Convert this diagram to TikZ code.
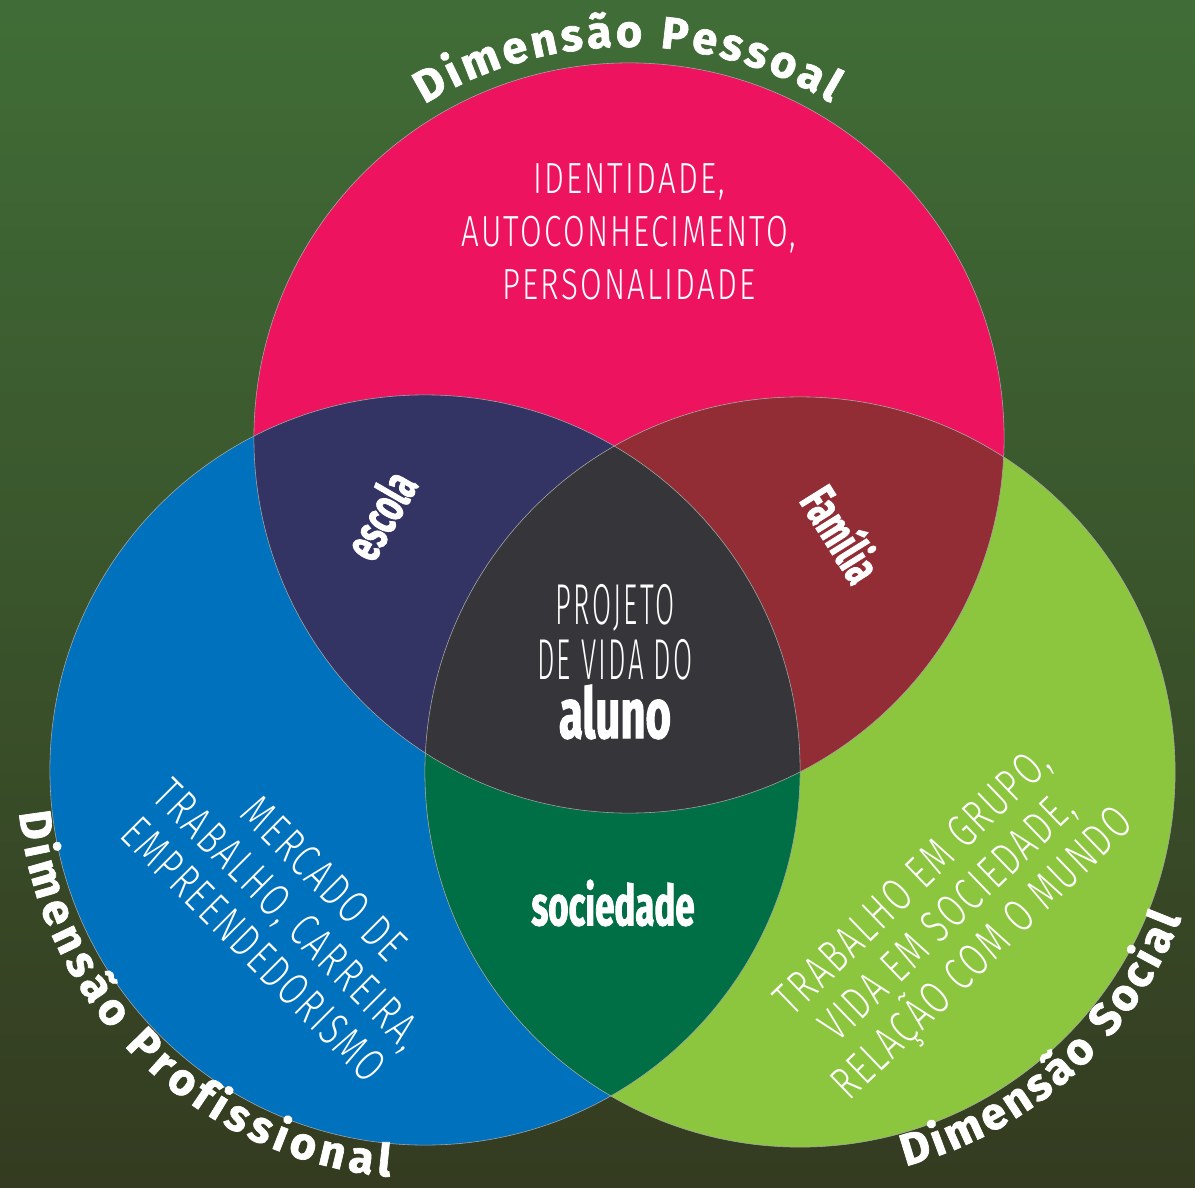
\documentclass[tikz,border=0pt]{standalone}
\usepackage{fontspec}
\newfontfamily\thinfont{Fira Sans Light}[FakeStretch=0.72,LetterSpace=5]
\newfontfamily\thinnarrow{Fira Sans Light}[FakeStretch=0.48,LetterSpace=4]
\newfontfamily\heavyfont{Fira Sans Bold}[FakeStretch=0.62,FakeBold=1.5]
\newfontfamily\arcfont{Fira Sans Bold}[FakeBold=1.5]
\usetikzlibrary{decorations.text}

\definecolor{bgtop}{HTML}{406D37}
\definecolor{bgbot}{HTML}{343B20}
\definecolor{pessoal}{HTML}{EE135E}
\definecolor{profis}{HTML}{0071BC}
\definecolor{social}{HTML}{8CC63F}
\definecolor{escolacol}{HTML}{343464}
\definecolor{familiacol}{HTML}{932D35}
\definecolor{sociedcol}{HTML}{006F46}
\definecolor{centrocol}{HTML}{363539}

\tikzset{
  every node/.style={text=white, inner sep=0pt},
  toptext/.style={font=\thinfont\fontsize{31}{37.7}\selectfont, align=center},
  sidetext/.style={font=\thinfont\fontsize{33}{35.6}\selectfont, align=center},
  centertext/.style={font=\thinnarrow\fontsize{41}{39}\selectfont, align=center},
  heavylabel/.style={font=\heavyfont\fontsize{36}{36}\selectfont},
  edge/.style={draw=gray!70, line width=0.4pt},
  arctext/.style={decorate, decoration={text along path, text color=white,
      text={|\arcfont\fontsize{32}{32}\selectfont|#1}, text align={fit to path}}}
}

\begin{document}
\begin{tikzpicture}[x=0.025cm,y=0.025cm]
  \useasboundingbox (0,0) rectangle (1195,-1188);
  \shade[top color=bgtop, bottom color=bgbot] (0,0) rectangle (1195,-1188);

  % circle centres
  \coordinate (P) at (629,-438);
  \coordinate (B) at (425,-770);
  \coordinate (S) at (800,-772);
  \def\rad{9.375cm}

  \fill[pessoal] (P) circle[radius=\rad];
  \fill[profis] (B) circle[radius=\rad];
  \fill[social] (S) circle[radius=\rad];
  \begin{scope}
    \clip (P) circle[radius=\rad];
    \fill[escolacol] (B) circle[radius=\rad];
    \fill[familiacol] (S) circle[radius=\rad];
  \end{scope}
  \begin{scope}
    \clip (B) circle[radius=\rad];
    \fill[sociedcol] (S) circle[radius=\rad];
    \clip (P) circle[radius=\rad];
    \fill[centrocol] (S) circle[radius=\rad];
  \end{scope}
  \draw[edge] (P) circle[radius=\rad];
  \draw[edge] (B) circle[radius=\rad];
  \draw[edge] (S) circle[radius=\rad];

  % curved titles
  \path[arctext=Dimensão Pessoal] ([shift={(121.5:9.78cm)}]P)
    arc[start angle=121.5, end angle=59, radius=9.78cm];
  \path[arctext=Dimensão Profissional] ([shift={(186:10.2cm)}]B)
    arc[start angle=186, end angle=265, radius=10.2cm];
  \path[arctext=Dimensão Social] ([shift={(-75:10.2cm)}]S)
    arc[start angle=-75, end angle=-21, radius=10.2cm];

  % texts
  \node[toptext] (ident) at (629,-232) {IDENTIDADE,\\AUTOCONHECIMENTO,\\PERSONALIDADE};
  \node[sidetext, rotate=-45] (mercado) at (289,-914) {MERCADO DE\\TRABALHO, CARREIRA,\\EMPREENDEDORISMO};
  \node[sidetext, rotate=44] (grupo) at (950,-920) {TRABALHO EM GRUPO,\\VIDA EM SOCIEDADE,\\RELAÇÃO COM O MUNDO};
  \node[centertext] (projeto) at (615,-632) {PROJETO\\DE VIDA DO};
  \node[heavylabel, font=\heavyfont\fontsize{50}{50}\selectfont] (aluno) at (615,-712) {aluno};
  \node[heavylabel, rotate=60] (escola) at (380,-515) {escola};
  \node[heavylabel, rotate=-58] (familia) at (843,-533) {Família};
  \node[heavylabel, font=\heavyfont\fontsize{40}{40}\selectfont] (sociedade) at (613,-903) {sociedade};
\end{tikzpicture}
\end{document}
